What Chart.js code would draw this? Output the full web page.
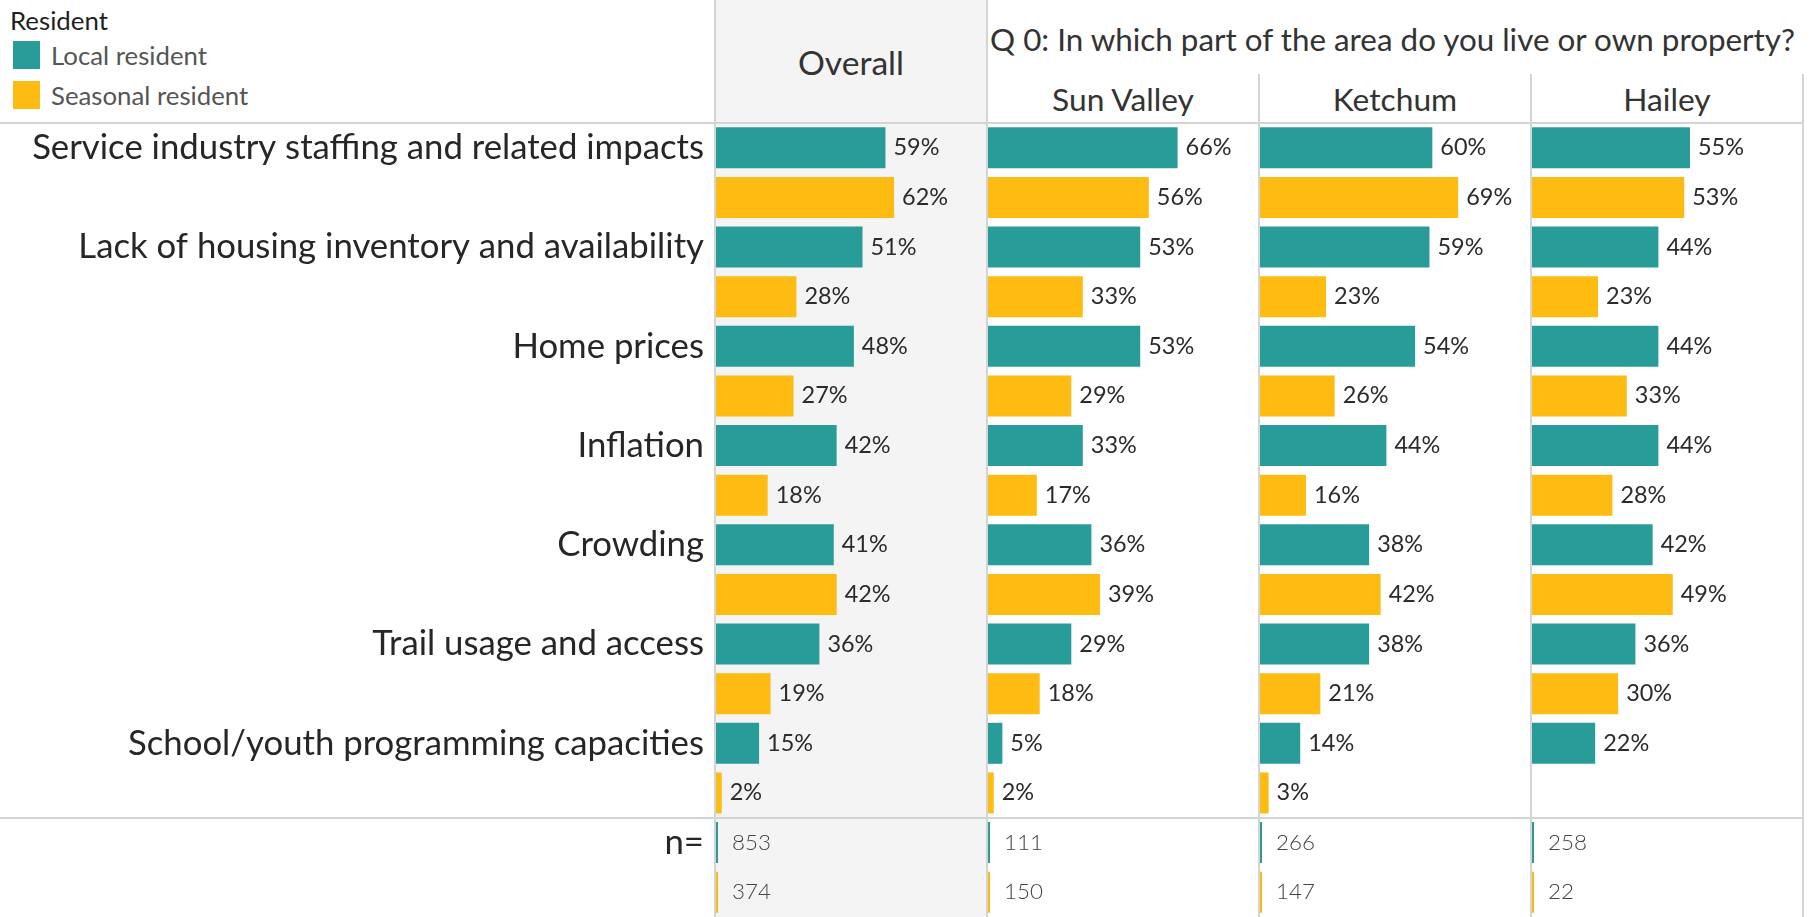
<!DOCTYPE html>
<html><head><meta charset="utf-8">
<script src="https://cdn.jsdelivr.net/npm/chart.js@4.4.1/dist/chart.umd.min.js"></script>
<style>
html,body{margin:0;padding:0;background:#fff;width:1811px;height:917px;overflow:hidden;font-family:Lato,sans-serif;}
.a{position:absolute;white-space:nowrap;}
.vl{position:absolute;width:2px;background:#d4d4d4;}
.hl{position:absolute;height:2px;background:#d4d4d4;}
.txt{position:absolute;white-space:nowrap;transform:translateY(-50%);line-height:1;}
canvas{position:absolute;}
</style></head><body>
<script>
// ---- data ----
const categories = [
  "Service industry staffing and related impacts",
  "Lack of housing inventory and availability",
  "Home prices",
  "Inflation",
  "Crowding",
  "Trail usage and access",
  "School/youth programming capacities"
];
const nLabel = "n=";
const panelNames = ["Overall", "Sun Valley", "Ketchum", "Hailey"];
const seriesNames = ["Local resident", "Seasonal resident"];
const overallLocal     = [59, 51, 48, 42, 41, 36, 15];
const overallSeasonal  = [62, 28, 27, 18, 42, 19, 2];
const sunValleyLocal   = [66, 53, 53, 33, 36, 29, 5];
const sunValleySeasonal= [56, 33, 29, 17, 39, 18, 2];
const ketchumLocal     = [60, 59, 54, 44, 38, 38, 14];
const ketchumSeasonal  = [69, 23, 26, 16, 42, 21, 3];
const haileyLocal      = [55, 44, 44, 44, 42, 36, 22];
const haileySeasonal   = [53, 23, 33, 28, 49, 30, null];
const nLocal    = [853, 111, 266, 258];
const nSeasonal = [374, 150, 147, 22];
const headerTitle = "Q 0: In which part of the area do you live or own property?";
const legendTitle = "Resident";

// ---- style ----
const TEAL = "#289c98", YEL = "#febb12";
const FAM = "Lato";
const mc = document.createElement("canvas").getContext("2d");
function fit(text, weight, target){ mc.font = weight+" 100px "+FAM; return 100*target/mc.measureText(text).width; }

const rowFont = fit(categories[0], "400", 672);
const valFont = fit("59%", "400", 46);
const nFont = fit("853", "300", 39);

function addDiv(cls, style, text){
  const d = document.createElement("div"); d.className = cls;
  Object.assign(d.style, style); if (text!=null) d.textContent = text;
  document.body.appendChild(d); return d;
}
// Overall background
addDiv("a", {left:"716px", top:"0px", width:"270px", height:"917px", background:"#f4f4f4"});

// panel geometry
const panelLeft = [716, 988, 1260, 1532];
const panelW = 270;
const TOP = 123, H = 794;

const panelLocal = [overallLocal, sunValleyLocal, ketchumLocal, haileyLocal];
const panelSeasonal = [overallSeasonal, sunValleySeasonal, ketchumSeasonal, haileySeasonal];

const labelPlugin = {
  id: "vals",
  afterDatasetsDraw(chart){
    const ctx = chart.ctx;
    chart.data.datasets.forEach((ds, di) => {
      const meta = chart.getDatasetMeta(di);
      meta.data.forEach((bar, i) => {
        const v = ds.data[i];
        if (v == null) return;
        ctx.save();
        ctx.textBaseline = "middle";
        ctx.textAlign = "left";
        if (ds.isN){
          ctx.font = "300 " + nFont + "px " + FAM;
          ctx.fillStyle = "#444";
          ctx.fillText(String(v), chart.chartArea.left + 16, bar.y);
        } else {
          ctx.font = "400 " + valFont + "px " + FAM;
          ctx.fillStyle = "#2b2b2b";
          ctx.fillText(v + "%", bar.x + 8, bar.y);
        }
        ctx.restore();
      });
    });
  }
};

panelNames.forEach((name, p) => {
  const first = p === 0;
  const cv = document.createElement("canvas");
  const left = first ? 0 : panelLeft[p];
  const w = first ? panelLeft[0] + panelW : panelW;
  cv.width = w; cv.height = H;
  cv.style.left = left + "px"; cv.style.top = TOP + "px";
  cv.style.width = w + "px"; cv.style.height = H + "px";
  document.body.appendChild(cv);
  const labels = categories.concat([nLabel]);
  const pad = v => v.concat([null]);
  const nOnly = v => categories.map(() => null).concat([v]);
  new Chart(cv, {
    type: "bar",
    data: {
      labels,
      datasets: [
        {label: seriesNames[0], data: pad(panelLocal[p]), backgroundColor: TEAL, stack: "L", xAxisID: "x"},
        {label: seriesNames[1], data: pad(panelSeasonal[p]), backgroundColor: YEL, stack: "S", xAxisID: "x"},
        {label: seriesNames[0] + " n", data: nOnly(nLocal[p]), backgroundColor: TEAL, stack: "L", xAxisID: "xn", isN: true, minBarLength: 2},
        {label: seriesNames[1] + " n", data: nOnly(nSeasonal[p]), backgroundColor: YEL, stack: "S", xAxisID: "xn", isN: true, minBarLength: 2}
      ]
    },
    options: {
      indexAxis: "y",
      responsive: false,
      animation: false,
      devicePixelRatio: 1,
      layout: {padding: 0},
      datasets: {bar: {categoryPercentage: 1, barPercentage: 0.826, borderWidth: 0}},
      plugins: {legend: {display: false}, tooltip: {enabled: false}},
      scales: {
        x: {display: false, min: 0, max: 94},
        xn: {display: false, min: 0, max: 1000000},
        y: {
          display: first,
          grid: {display: false, drawTicks: false},
          border: {display: false},
          afterFit: s => { if (first) { s.width = panelLeft[0]; } s.paddingTop = 0; s.paddingBottom = 0; },
          ticks: {
            autoSkip: false, padding: 12, labelOffset: -24.8,
            color: "#262626",
            font: {family: FAM, size: rowFont, weight: "400"}
          }
        }
      }
    },
    plugins: [labelPlugin]
  });
});

// lines
addDiv("vl", {left:"714px", top:"0px", height:"917px"});
addDiv("vl", {left:"986px", top:"0px", height:"917px"});
addDiv("vl", {left:"1258px", top:"74px", height:"843px"});
addDiv("vl", {left:"1530px", top:"74px", height:"843px"});
addDiv("vl", {left:"1802px", top:"74px", height:"843px"});
addDiv("hl", {left:"0px", top:"122px", width:"1804px"});
addDiv("hl", {left:"0px", top:"817px", width:"1804px"});

// headers
const hdrFont = fit(headerTitle, "400", 808);
addDiv("txt", {left:"990px", top:"40px", fontSize: hdrFont+"px", color:"#333", fontFamily:FAM}, headerTitle);
const ovFont = fit("Overall", "400", 106);
addDiv("txt", {left:"716px", width:"270px", textAlign:"center", top:"63px", fontSize: ovFont+"px", color:"#333", fontFamily:FAM}, panelNames[0]);
const subFont = fit("Sun Valley", "400", 143);
[1,2,3].forEach(p => {
  addDiv("txt", {left: panelLeft[p]+"px", width: panelW+"px", textAlign:"center", top:"100px", fontSize: subFont+"px", color:"#333", fontFamily:FAM}, panelNames[p]);
});

// legend
const legFont = fit("Local resident", "400", 156);
addDiv("txt", {left:"10px", top:"21px", fontSize: fit(legendTitle, "400", 98)+"px", color:"#1f1f1f", fontFamily:FAM}, legendTitle);
addDiv("a", {left:"13px", top:"41px", width:"27px", height:"28px", background:TEAL});
addDiv("a", {left:"13px", top:"81px", width:"27px", height:"28px", background:YEL});
addDiv("txt", {left:"51px", top:"56px", fontSize: legFont+"px", color:"#555", fontFamily:FAM}, seriesNames[0]);
addDiv("txt", {left:"51px", top:"96px", fontSize: legFont+"px", color:"#555", fontFamily:FAM}, seriesNames[1]);
</script>
</body></html>
